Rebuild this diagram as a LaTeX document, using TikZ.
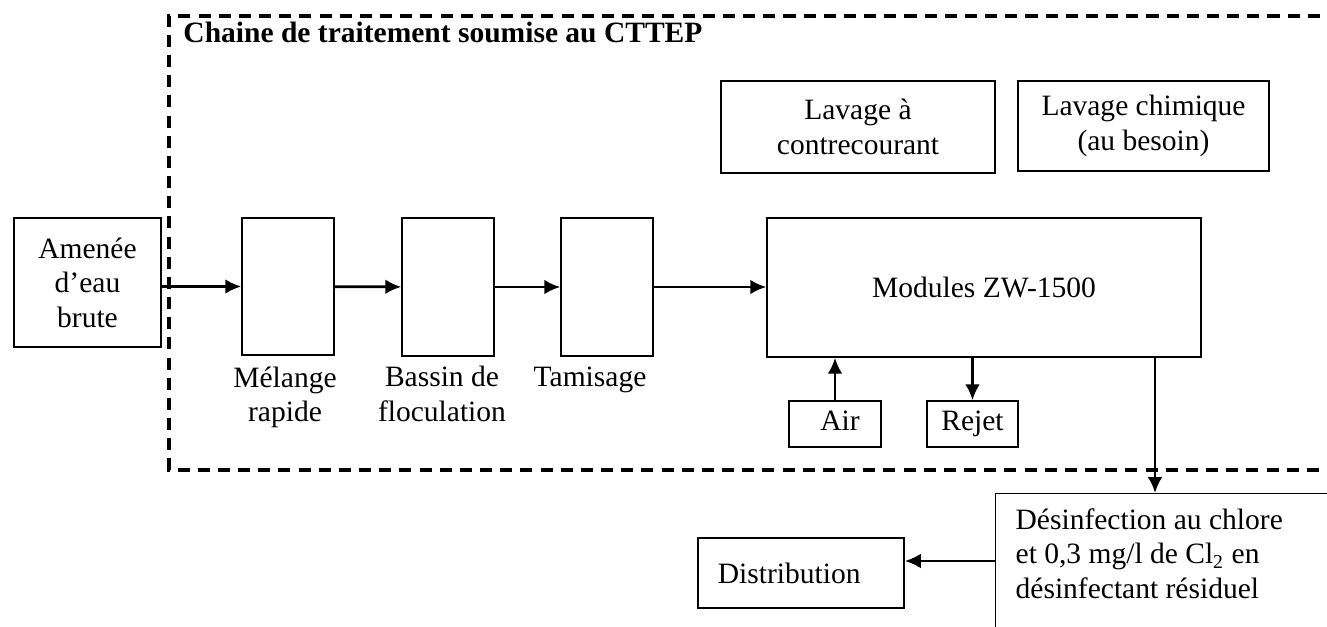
\documentclass[tikz,border=0pt]{standalone}
\usepackage{fontspec}
\setmainfont{Liberation Serif}
\usetikzlibrary{arrows.meta}

\tikzset{
  bloc/.style={draw, line width=.6pt, inner sep=0pt, align=center},
  boite/.style 2 args={minimum width=#1*.4066pt, minimum height=#2*.4066pt},
  flux/.style={-{Latex[length=6.5pt,width=6pt]}, line width=1.1pt},
  legende/.style={inner sep=0pt, align=center, anchor=north},
}

\begin{document}
\begin{tikzpicture}[x=.4066pt, y=-.4066pt, font=\fontsize{12}{14}\selectfont]
  \useasboundingbox (0,0) rectangle (1327,626);
  \clip (0,0) rectangle (1327,626);

  % cadre du CTTEP
  \draw[line width=1.35pt, dash pattern=on 4.9pt off 3.3pt] (1340,16) -- (169,16) -- (169,470) -- (1340,470);
  \node[inner sep=0pt, anchor=base west, font=\fontsize{12}{14}\selectfont\bfseries] (titre) at (183,43) {Chaine de traitement soumise au CTTEP};

  % chaine
  \node[bloc, boite={147}{129}] (amenee) at (87.5,282.5) {Amenée\\d’eau\\brute};
  \node[bloc, boite={92}{137}] (melange) at (288,286.5) {};
  \node[bloc, boite={92}{138}] (bassin) at (448,287) {};
  \node[bloc, boite={92}{138}] (tamis) at (607,287) {};
  \node[bloc, boite={434}{139}] (modules) at (984,287.5) {Modules ZW-1500};

  \node[legende] (lmelange) at (285,366) {Mélange\\rapide};
  \node[legende] (lbassin) at (442,366) {Bassin de\\floculation};
  \node[legende] (ltamis) at (590,366) {Tamisage};

  % lavages
  \node[bloc, boite={274}{92}] (contre) at (858,127) {Lavage à\\contrecourant};
  \node[bloc, boite={251}{90}] (chimique) at (1143.5,126) {Lavage chimique\\(au besoin)};

  \node[bloc, boite={92}{46}, text height=8.2pt, text depth=2.8pt] (air) at (835,424) {\hspace*{4pt}Air};
  \node[bloc, boite={91}{46}, text height=8.2pt, text depth=2.8pt] (rejet) at (972.5,424) {Rejet};

  % sortie
  \node[bloc, anchor=north west, inner xsep=8.1pt, inner ysep=6pt, text width=150pt, align=flush left] (desinf) at (995,493)
    {Désinfection au chlore\\et 0,3 mg/l de Cl\textsubscript{2} en\\désinfectant résiduel\\[6pt]\mbox{}};
  \node[bloc, boite={206}{70}, inner xsep=8.1pt, text width=67.6pt, align=flush left] (distrib) at (801,573) {Distribution};

  \draw[flux] (amenee.east |- melange.west) -- (melange.west);
  \draw[flux] (melange) -- (bassin);
  \draw[flux] (bassin) -- (tamis);
  \draw[flux] (tamis.east) -- (tamis.east -| modules.west);
  \draw[flux] (air) -- (air |- modules.south);
  \draw[flux] (rejet |- modules.south) -- (rejet);
  \coordinate (sortie) at (1155,357);
  \draw[flux] (sortie) -- (sortie |- desinf.north);
  \coordinate (renvoi) at (995,561);
  \draw[flux] (renvoi) -- (renvoi -| distrib.east);
\end{tikzpicture}
\end{document}
